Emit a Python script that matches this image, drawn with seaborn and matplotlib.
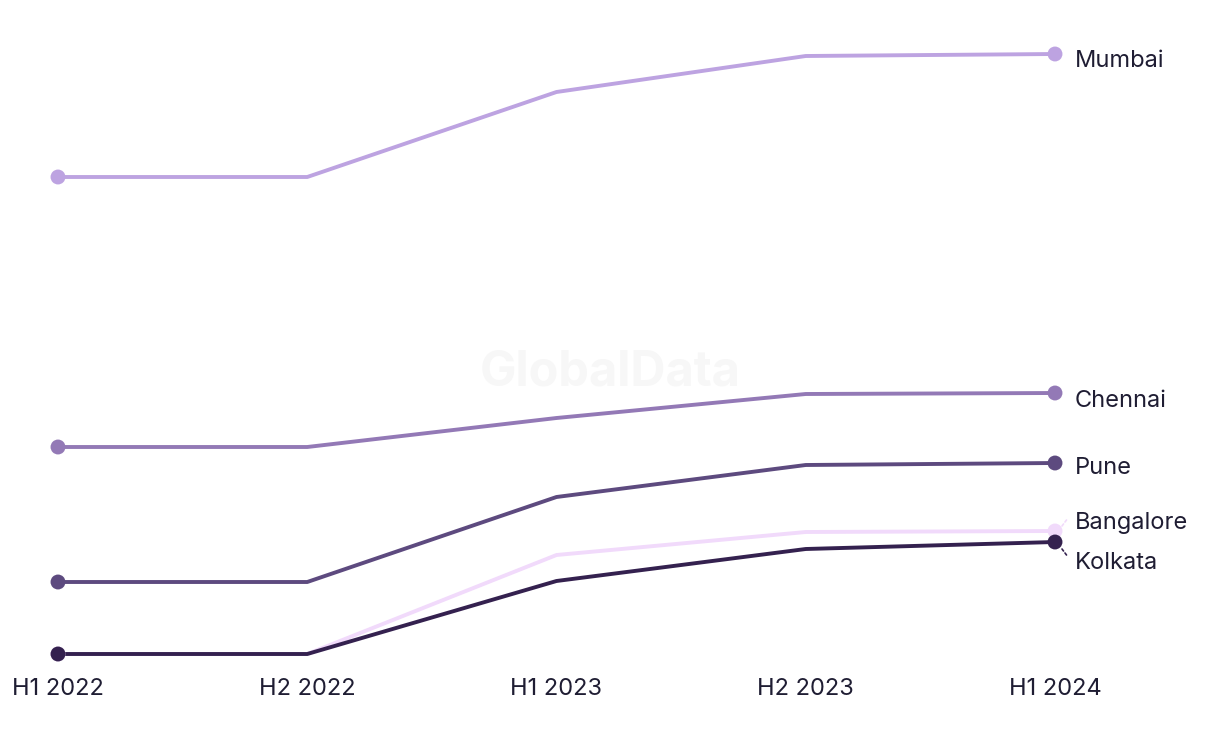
import numpy as np
import pandas as pd
import matplotlib
matplotlib.use("Agg")
import matplotlib.pyplot as plt
import seaborn as sns

periods = ["H1 2022", "H2 2022", "H1 2023", "H2 2023", "H1 2024"]
cities = ["Mumbai", "Chennai", "Pune", "Bangalore", "Kolkata"]
mumbai = [477, 477, 562, 598, 600]
chennai = [207, 207, 236, 260, 261]
pune = [72, 72, 157, 189, 191]
bangalore = [0, 0, 99, 122, 123]
kolkata = [0, 0, 73, 105, 112]
colors = ["#bda3e1", "#9379b6", "#5d4a7f", "#f1dafb", "#34214f"]

series = [mumbai, chennai, pune, bangalore, kolkata]
rows = []
for c, vals in zip(cities, series):
    for i, (p, v) in enumerate(zip(periods, vals)):
        rows.append({"city": c, "period": p, "x": i, "value": v})
df = pd.DataFrame(rows)

sns.set_theme(style="white")
plt.rcParams["font.family"] = ["Inter", "DejaVu Sans"]
text_color = "#1f1d33"

fig = plt.figure(figsize=(12.2, 7.44), dpi=100)
W, H = 1220, 744
x0, x1 = 58, 1055
y0, y1 = 654, 54
ax = fig.add_axes([x0 / W, (H - y0) / H, (x1 - x0) / W, (y0 - y1) / H])

fig.text(610 / W, 1 - 372 / H, "GlobalData", ha="center", va="center",
         fontsize=35, fontweight="bold", color="#f7f7f7", zorder=0)

palette = dict(zip(cities, colors))
order = ["Mumbai", "Chennai", "Bangalore", "Pune", "Kolkata"]
for c in order:
    sub = df[df.city == c]
    sns.lineplot(data=sub, x="x", y="value", color=palette[c], lw=2.8,
                 ax=ax, legend=False, clip_on=False)
    ends = sub[sub.x.isin([0, 4])]
    sns.scatterplot(data=ends, x="x", y="value", color=palette[c], s=115,
                    edgecolor="none", ax=ax, legend=False, clip_on=False, zorder=5)

ax.set_xlim(0, 4)
ax.set_ylim(0, 600)
ax.set_xticks(range(len(periods)))
ax.set_xticklabels(periods, fontsize=17, color=text_color)
ax.tick_params(axis="x", length=0, pad=17)
ax.set_yticks([])
ax.set_xlabel("")
ax.set_ylabel("")
for s in ax.spines.values():
    s.set_visible(False)

def px2data(px, py):
    return ((px - x0) / (x1 - x0) * 4, (y0 - py) / (y0 - y1) * 600)

label_y = {"Mumbai": 61, "Chennai": 401, "Pune": 468, "Bangalore": 523, "Kolkata": 563}
leaders = {"Bangalore": ((1062, 526), (1068, 518)), "Kolkata": ((1062, 549), (1068, 557))}
for c, vals in zip(cities, series):
    if c in leaders:
        a, b = leaders[c]
        ax.annotate("", xy=px2data(*b), xytext=px2data(*a),
                    arrowprops=dict(arrowstyle="-", linestyle=(0, (1.5, 1.5)),
                                    color=palette[c] if c == "Bangalore" else "#34214f",
                                    lw=1.2, shrinkA=0, shrinkB=0),
                    annotation_clip=False)
    tx, ty = px2data(1075, label_y[c])
    ax.text(tx, ty, c, ha="left", va="center", fontsize=17,
            color=text_color, clip_on=False)

fig.savefig("out.png", dpi=100, facecolor="white")
